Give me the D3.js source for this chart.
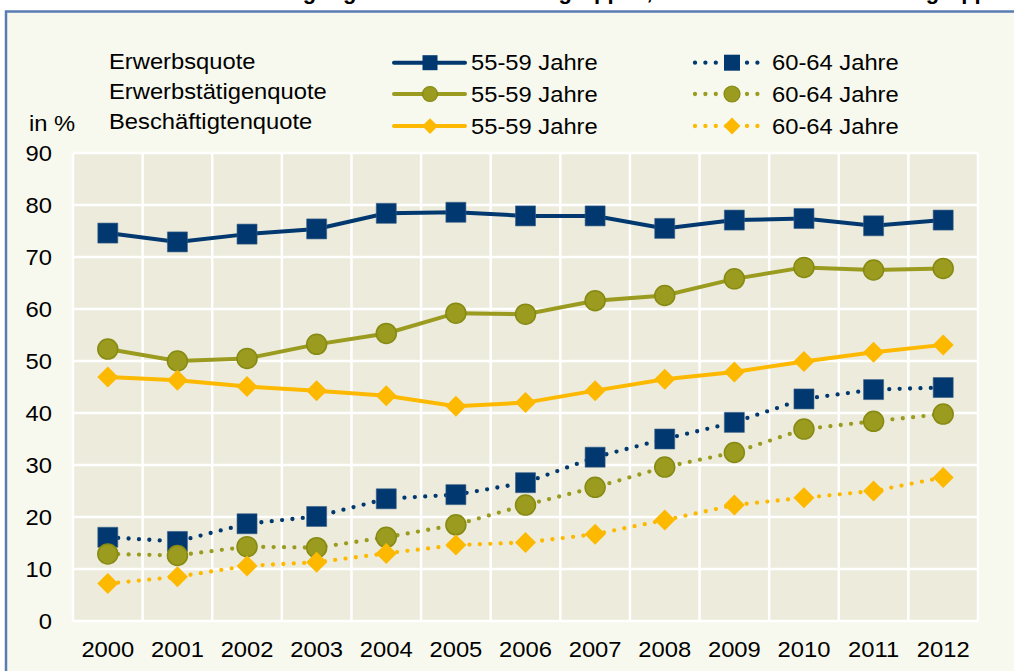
<!DOCTYPE html>
<html>
<head>
<meta charset="utf-8">
<script src="https://cdn.jsdelivr.net/npm/d3@7"></script>
<style>
  body { margin: 0; background: #fff; }
  svg { display: block; font-family: "Liberation Sans", Arial, sans-serif; }
</style>
</head>
<body>
<svg id="chart" width="1014" height="671"></svg>
<script>
// values
const years = [2000, 2001, 2002, 2003, 2004, 2005, 2006, 2007, 2008, 2009, 2010, 2011, 2012];
const erwerbsquote5559 = [74.6, 72.9, 74.4, 75.4, 78.4, 78.6, 77.9, 77.9, 75.5, 77.1, 77.4, 76.0, 77.1];
const erwerbsquote6064 = [16.1, 15.3, 18.7, 20.1, 23.5, 24.3, 26.6, 31.5, 35.0, 38.2, 42.7, 44.5, 44.9];
const erwerbstaetig5559 = [52.3, 50.0, 50.5, 53.2, 55.3, 59.2, 59.0, 61.6, 62.6, 65.8, 68.0, 67.5, 67.8];
const erwerbstaetig6064 = [12.9, 12.6, 14.3, 14.1, 16.1, 18.5, 22.3, 25.7, 29.6, 32.4, 36.9, 38.4, 39.8];
const beschaeftigt5559 = [46.9, 46.3, 45.1, 44.3, 43.3, 41.3, 42.0, 44.3, 46.5, 47.9, 49.9, 51.7, 53.1];
const beschaeftigt6064 = [7.2, 8.5, 10.6, 11.3, 13.0, 14.6, 15.1, 16.7, 19.4, 22.3, 23.7, 25.0, 27.6];
const yTicks = [0, 10, 20, 30, 40, 50, 60, 70, 80, 90];
const groupLabels = ["Erwerbsquote", "Erwerbstätigenquote", "Beschäftigtenquote"];
const ageLabels = ["55-59 Jahre", "60-64 Jahre"];

const navy = "#00386f", olive = "#9a9b1f", gold = "#fdb900";
const stretch = 1.08; // reference text is a bit wider than Arial

const series = [
    { values: erwerbsquote5559, color: navy, shape: "square", dotted: false },
    { values: erwerbsquote6064, color: navy, shape: "square", dotted: true },
    { values: erwerbstaetig5559, color: olive, shape: "circle", dotted: false },
    { values: erwerbstaetig6064, color: olive, shape: "circle", dotted: true },
    { values: beschaeftigt5559, color: gold, shape: "diamond", dotted: false },
    { values: beschaeftigt6064, color: gold, shape: "diamond", dotted: true }
];

const svg = d3.select("#chart");
const margin = { top: 153, right: 36, bottom: 50, left: 73 };
const width = 1014, height = 671;
const plotW = width - margin.left - margin.right;
const plotH = height - margin.top - margin.bottom;

// square-ish diamond like the reference
const symbolRhombus = {
    draw(context, size) {
        const r = Math.sqrt(size) / 2 * 1.05;
        context.moveTo(0, -r);
        context.lineTo(r, 0);
        context.lineTo(0, r);
        context.lineTo(-r, 0);
        context.closePath();
    }
};
function markerPath(shape, s) {
    if (shape === "square") return d3.symbol(d3.symbolSquare, s * s)();
    if (shape === "circle") return d3.symbol(d3.symbolCircle, Math.PI * (s / 2) * (s / 2))();
    return d3.symbol(symbolRhombus, s * s)();
}

function addText(parent, tx, ty, str) {
    return parent.append("text")
        .attr("transform", `translate(${tx},${ty}) scale(${stretch},1)`)
        .style("font-size", "22px")
        .text(str);
}

// title (cut off by the frame top in the reference)
svg.append("text")
    .attr("x", 583)
    .attr("y", -1)
    .attr("text-anchor", "middle")
    .style("font-size", "22px")
    .style("font-weight", "bold")
    .text("Erwerbsbeteiligung Älterer nach Altersgruppen, 2000 bis 2012 nach Altersgruppen");

// outer frame
svg.append("rect")
    .attr("x", 6)
    .attr("y", 11.5)
    .attr("width", 1040)
    .attr("height", 700)
    .attr("fill", "#f7f9ee")
    .attr("stroke", "#5a7cb2")
    .attr("stroke-width", 2.5);

const g = svg.append("g")
    .attr("transform", `translate(${margin.left},${margin.top})`);

const x = d3.scaleBand().domain(years).range([0, plotW]).padding(0);
const y = d3.scaleLinear().domain([0, 90]).range([plotH, 0]);

g.append("rect")
    .attr("width", plotW)
    .attr("height", plotH)
    .attr("fill", "#edebdc");

g.selectAll(".hgrid")
    .data(yTicks)
    .enter()
    .append("line")
    .attr("class", "hgrid")
    .attr("x1", 0)
    .attr("x2", plotW)
    .attr("y1", d => y(d))
    .attr("y2", d => y(d))
    .attr("stroke", "#fff")
    .attr("stroke-width", 2.5);

g.selectAll(".vgrid")
    .data(years.concat(["end"]))
    .enter()
    .append("line")
    .attr("class", "vgrid")
    .attr("x1", d => d === "end" ? plotW : x(d))
    .attr("x2", d => d === "end" ? plotW : x(d))
    .attr("y1", 0)
    .attr("y2", plotH)
    .attr("stroke", "#fff")
    .attr("stroke-width", 2.5);

const yAxis = g.append("g")
    .call(d3.axisLeft(y).tickValues(yTicks).tickSize(0).tickPadding(21));
yAxis.select(".domain").remove();
yAxis.selectAll("text")
    .attr("fill", "#000")
    .style("font-size", "22px")
    .style("font-family", "'Liberation Sans', Arial, sans-serif")
    .attr("transform", function () {
        const tx = +d3.select(this).attr("x");
        return `translate(${tx},0) scale(${stretch},1)`;
    })
    .attr("x", 0);

const xAxis = g.append("g")
    .attr("transform", `translate(0,${plotH})`)
    .call(d3.axisBottom(x).tickSize(0).tickPadding(20));
xAxis.select(".domain").remove();
xAxis.selectAll("text")
    .attr("fill", "#000")
    .style("font-size", "22px")
    .style("font-family", "'Liberation Sans', Arial, sans-serif")
    .attr("transform", `scale(${stretch},1)`);

const line = d3.line()
    .x((d, i) => x(years[i]) + x.bandwidth() / 2)
    .y(d => y(d));

series.forEach(s => {
    g.append("path")
        .datum(s.values)
        .attr("fill", "none")
        .attr("stroke", s.color)
        .attr("stroke-width", s.dotted ? 4.3 : 4)
        .attr("stroke-linecap", s.dotted ? "round" : "butt")
        .attr("stroke-dasharray", s.dotted ? "0 10.4" : null)
        .attr("d", line);

    g.selectAll(null)
        .data(s.values)
        .enter()
        .append("path")
        .attr("transform", (d, i) => `translate(${x(years[i]) + x.bandwidth() / 2},${y(d)})`)
        .attr("d", markerPath(s.shape, 20))
        .attr("fill", s.color)
        .attr("stroke", s.shape === "circle" ? "#868a12" : (s.shape === "square" ? "#3a5f8a" : "none"))
        .attr("stroke-width", s.shape === "circle" ? 1.5 : 0.6);
});

// legend
addText(svg, 29, 131, "in %");

const rowLineY = [62.7, 94, 126];
const rowLabelY = [69, 98.5, 128.5];
groupLabels.forEach((lbl, r) => addText(svg, 109, rowLabelY[r], lbl));

const legendCols = [
    { x1: 394, x2: 465, mx: 430, tx: 471 },
    { x1: 695, x2: 762, mx: 732, tx: 772 }
];
series.forEach((s, k) => {
    const r = Math.floor(k / 2), c = k % 2;
    const col = legendCols[c];
    const ly = rowLineY[r];
    svg.append("line")
        .attr("x1", col.x1)
        .attr("x2", col.x2)
        .attr("y1", ly)
        .attr("y2", ly)
        .attr("stroke", s.color)
        .attr("stroke-width", s.dotted ? 4.3 : 4)
        .attr("stroke-linecap", "round")
        .attr("stroke-dasharray", s.dotted ? "0 10.4" : null);
    svg.append("path")
        .attr("transform", `translate(${col.mx},${ly})`)
        .attr("d", markerPath(s.shape, s.dotted ? 16 : 15))
        .attr("fill", s.color)
        .attr("stroke", s.shape === "circle" ? "#868a12" : "none")
        .attr("stroke-width", 1.2);
    addText(svg, col.tx, ly + 7.5, ageLabels[c]);
});
</script>
</body>
</html>
